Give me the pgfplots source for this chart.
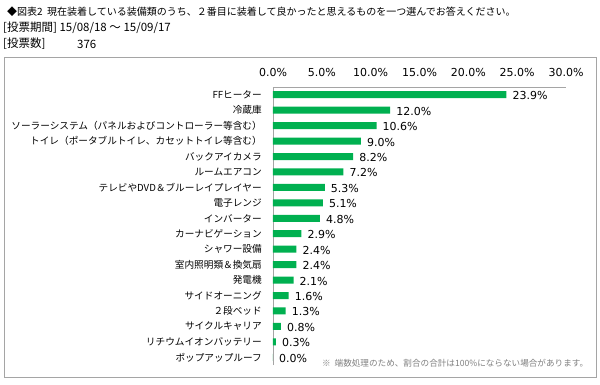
\documentclass[border=0pt]{standalone}
\usepackage{pgfplots}
\pgfplotsset{compat=1.18}
\usepackage{fontspec}
\setmainfont{Noto Sans CJK JP}
\newfontfamily\jp{Noto Sans CJK JP}
\newfontfamily\verd{DejaVu Sans}
\definecolor{barg}{RGB}{0,176,80}
\definecolor{framec}{RGB}{165,165,165}
\begin{document}
\begin{tikzpicture}
\useasboundingbox (0pt,0pt) rectangle (600pt,384pt);
\fill[white] (0pt,0pt) rectangle (600pt,384pt);
\draw[framec, line width=0.9pt] (4pt,7pt) rectangle (596pt,327pt);
\node[anchor=west, inner sep=0pt, font=\jp\fontsize{10}{12}\selectfont] at (7pt,372pt) {◆図表2\ \ 現在装着している装備類のうち、２番目に装着して良かったと思えるものを一つ選んでお答えください。};
\node[anchor=west, inner sep=0pt, font=\jp\fontsize{11.5}{13}\selectfont] at (3pt,356pt) {[投票期間] 15/08/18 ～ 15/09/17};
\node[anchor=west, inner sep=0pt, font=\jp\fontsize{11.5}{13}\selectfont] at (3pt,340pt) {[投票数]};
\node[anchor=west, inner sep=0pt, font=\jp\fontsize{11.5}{13}\selectfont] at (77pt,340pt) {376};
\node[anchor=west, inner sep=0pt, text=gray, font=\jp\fontsize{8.6}{10}\selectfont] at (322pt,21pt) {※\ \ 端数処理のため、割合の合計は100\%にならない場合があります。};
\begin{axis}[
  at={(273pt,19pt)}, anchor=south west,
  scale only axis, width=293pt, height=278pt,
  xbar, bar width=7pt, bar shift=0pt,
  xmin=0, xmax=30, ymin=-0.5, ymax=17.5,
  axis x line*=top, axis y line*=left,
  axis line style={-, draw=framec, line width=0.7pt},
  xtick={0,5,10,15,20,25,30},
  xticklabel={\pgfmathprintnumber[fixed,fixed zerofill,precision=1]{\tick}\%},
  /pgf/number format/assume math mode=true,
  xticklabel style={font=\verd\fontsize{11}{13}\selectfont, anchor=base, inner sep=0pt, yshift=11pt},
  ytick={0,...,17},
  yticklabels={{ポップアップルーフ},{リチウムイオンバッテリー},{サイクルキャリア},{２段ベッド},{サイドオーニング},{発電機},{室内照明類＆換気扇},{シャワー設備},{カーナビゲーション},{インバーター},{電子レンジ},{テレビやDVD＆ブルーレイプレイヤー},{ルームエアコン},{バックアイカメラ},{トイレ（ポータブルトイレ、カセットトイレ等含む）},{ソーラーシステム（パネルおよびコントローラー等含む）},{冷蔵庫},{FFヒーター}},
  yticklabel style={font=\jp\fontsize{9.65}{11}\selectfont, anchor=east, inner sep=0pt, xshift=-11pt},
  major tick length=0pt,
  nodes near coords={\pgfmathprintnumber[fixed,fixed zerofill,precision=1]{\pgfplotspointmeta}\%},
  nodes near coords style={font=\verd\fontsize{11}{13}\selectfont, anchor=west, inner sep=0pt, xshift=6pt, yshift=-1pt},
  point meta=explicit,
]
\addplot[fill=barg, draw=none] table[x=v, y=y, meta=v] {
y v
17 23.9
16 12.0
15 10.6
14 9.0
13 8.2
12 7.2
11 5.3
10 5.1
9 4.8
8 2.9
7 2.4
6 2.4
5 2.1
4 1.6
3 1.3
2 0.8
1 0.3
0 0.0
};
\end{axis}
\end{tikzpicture}
\end{document}
